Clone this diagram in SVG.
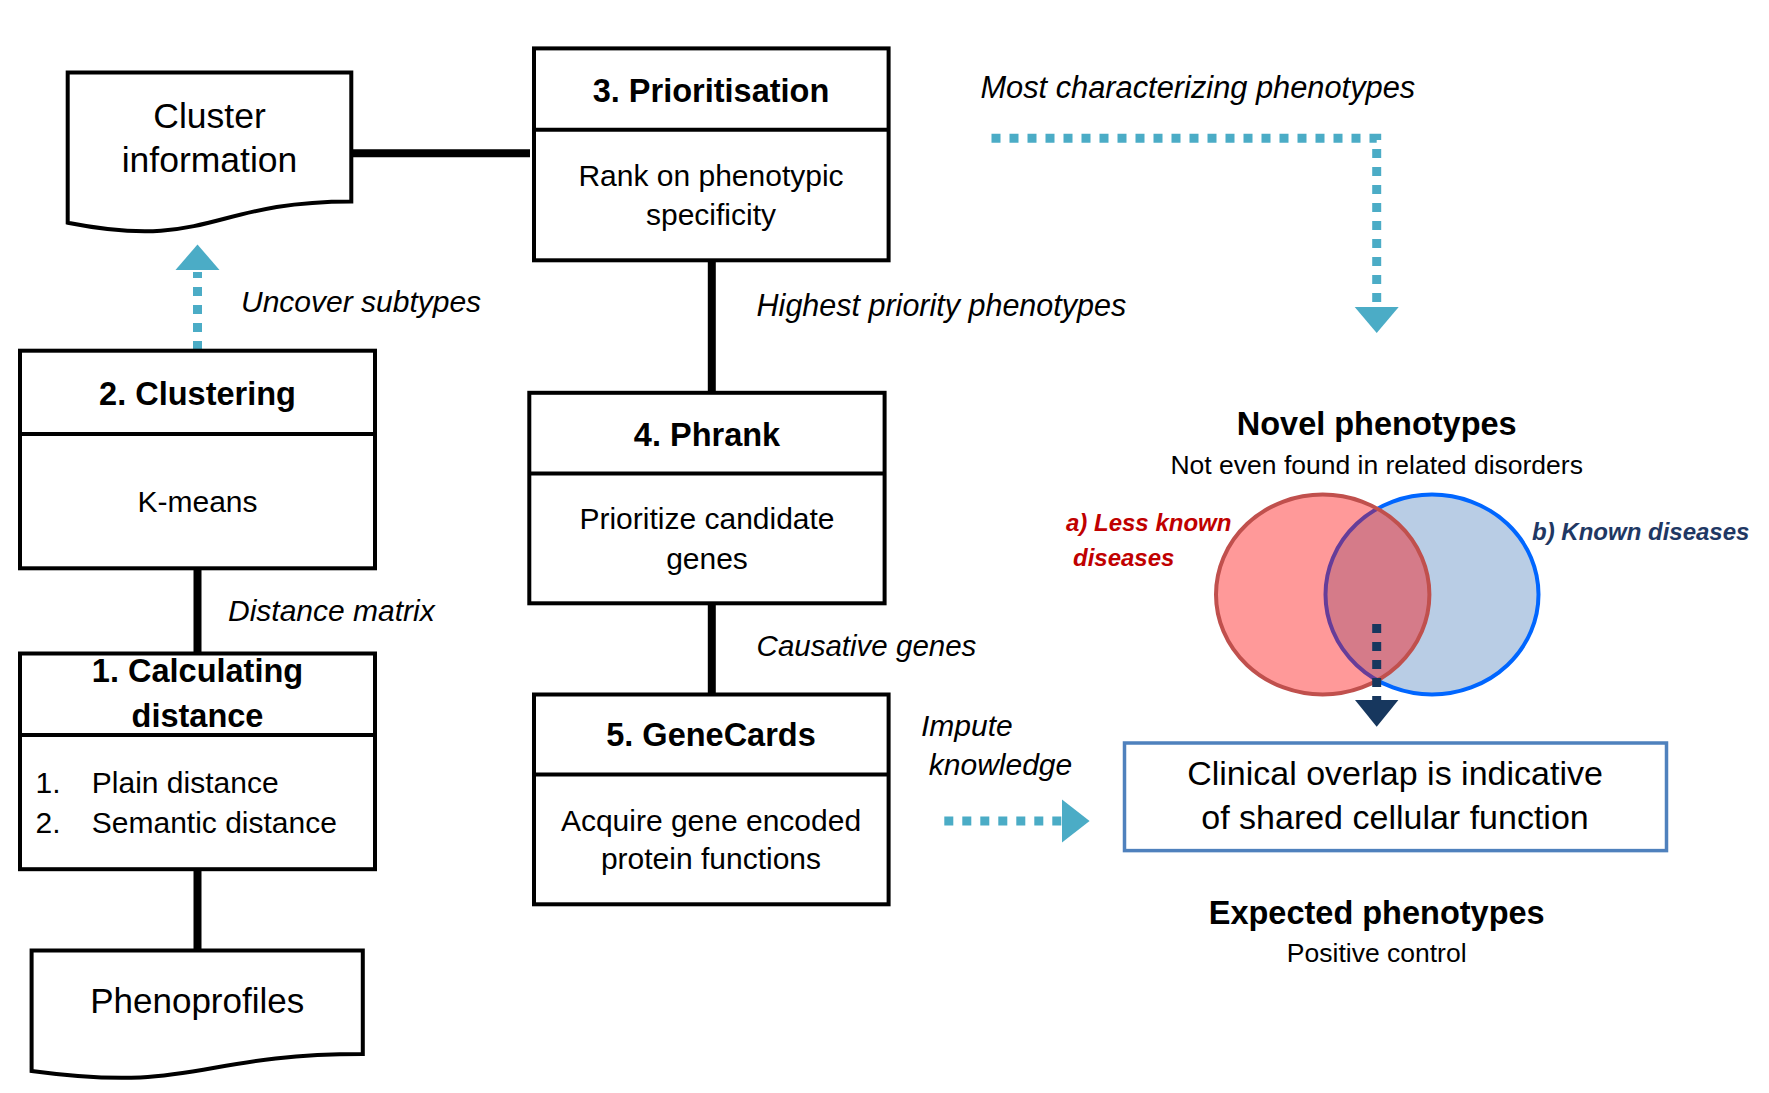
<svg xmlns="http://www.w3.org/2000/svg" width="1769" height="1093" viewBox="0 0 1769 1093">
<style>
  text { font-family: "Liberation Sans", Arial, sans-serif; fill: #000; }
  .box { fill: #fff; stroke: #000; stroke-width: 4; }
  .div { stroke: #000; stroke-width: 4; }
  .title { font-weight: bold; font-size: 32.5px; text-anchor: middle; }
  .body { font-size: 30px; text-anchor: middle; }
  .item { font-size: 30px; text-anchor: start; }
  .doc { font-size: 35.5px; text-anchor: middle; }
  .lbl { font-style: italic; font-size: 30px; }
  .conn { stroke: #000; stroke-width: 8; fill: none; }
  .dotted { stroke: #4BACC6; stroke-width: 9; stroke-dasharray: 9 9; fill: none; }
  .dotdark { stroke: #17375E; stroke-width: 9; stroke-dasharray: 9 9; fill: none; }
  .head { fill: #4BACC6; }
  .headdark { fill: #17375E; }
  .big { font-weight: bold; font-size: 32.5px; text-anchor: middle; }
  .sub { font-size: 26.5px; text-anchor: middle; }
  .red { font-weight: bold; font-style: italic; font-size: 24px; fill: #C00000; }
  .navy { font-weight: bold; font-style: italic; font-size: 24px; fill: #1F3864; }
  .clin { font-size: 34px; text-anchor: middle; }
</style>
<rect width="1769" height="1093" fill="#fff"/>

<g id="connectors">
  <path class="conn" d="M351,153.3 H530"/>
  <path class="conn" d="M711.8,260 V392.8"/>
  <path class="conn" d="M711.8,603.3 V694.5"/>
  <path class="conn" d="M197.5,568.3 V653.5"/>
  <path class="conn" d="M197.5,869.2 V950.6"/>
  <path class="dotted" d="M197.5,350 V272"/>
  <polygon class="head" points="175.5,270 219.5,270 197.5,244.5"/>
  <path class="dotted" d="M991.5,138.3 H1376.7 V307"/>
  <polygon class="head" points="1354.7,307 1398.7,307 1376.7,333"/>
  <path class="dotted" d="M944.3,821 H1062"/>
  <polygon class="head" points="1062,799.4 1062,842.6 1089.6,821"/>
</g>

<g id="labels">
  <text class="lbl" x="241" y="311.5">Uncover subtypes</text>
  <text class="lbl" x="228" y="621">Distance matrix</text>
  <text class="lbl" x="756.6" y="315.7" font-size="30.5" style="font-size:30.5px">Highest priority phenotypes</text>
  <text class="lbl" x="756.6" y="656" style="font-size:29.5px">Causative genes</text>
  <text class="lbl" x="980.4" y="98.2" style="font-size:30.8px">Most characterizing phenotypes</text>
  <text class="lbl" x="921" y="736">Impute</text>
  <text class="lbl" x="928.8" y="774.5">knowledge</text>
</g>

<g id="cluster-information">
  <path class="box" d="M67.7,72.6 H351.3 V201.5 C209.5,201.5 209.5,250.6 67.7,222.7 Z"/>
  <text class="doc" x="209.5" y="128">Cluster</text>
  <text class="doc" x="209.5" y="172">information</text>
</g>

<g id="prioritisation">
  <rect class="box" x="534" y="48.4" width="354.6" height="211.9"/>
  <line class="div" x1="534" y1="129.8" x2="888.6" y2="129.8"/>
  <text class="title" x="711" y="102.4">3. Prioritisation</text>
  <text class="body" x="711" y="186">Rank on phenotypic</text>
  <text class="body" x="711" y="224.5">specificity</text>
</g>

<g id="phrank">
  <rect class="box" x="529.3" y="392.8" width="355.3" height="210.5"/>
  <line class="div" x1="529.3" y1="473.5" x2="884.6" y2="473.5"/>
  <text class="title" x="707" y="445.5">4. Phrank</text>
  <text class="body" x="707" y="529">Prioritize candidate</text>
  <text class="body" x="707" y="569.3">genes</text>
</g>

<g id="genecards">
  <rect class="box" x="534" y="694.5" width="354.6" height="209.8"/>
  <line class="div" x1="534" y1="774.5" x2="888.6" y2="774.5"/>
  <text class="title" x="711" y="745.7">5. GeneCards</text>
  <text class="body" x="711" y="830.6">Acquire gene encoded</text>
  <text class="body" x="711" y="869.2">protein functions</text>
</g>

<g id="clustering">
  <rect class="box" x="20" y="350.7" width="355" height="217.6"/>
  <line class="div" x1="20" y1="433.9" x2="375" y2="433.9"/>
  <text class="title" x="197.5" y="405">2. Clustering</text>
  <text class="body" x="197.5" y="512">K-means</text>
</g>

<g id="calculating-distance">
  <rect class="box" x="20" y="653.5" width="355" height="215.7"/>
  <line class="div" x1="20" y1="734.9" x2="375" y2="734.9"/>
  <text class="title" x="197.5" y="681.5">1. Calculating</text>
  <text class="title" x="197.5" y="727">distance</text>
  <text class="item" x="35.6" y="792.7">1.</text>
  <text class="item" x="91.8" y="792.7">Plain distance</text>
  <text class="item" x="35.6" y="832.7">2.</text>
  <text class="item" x="91.8" y="832.7">Semantic distance</text>
</g>

<g id="phenoprofiles">
  <path class="box" d="M31.6,950.6 H362.8 V1054 C197.2,1054 197.2,1093.4 31.6,1071 Z"/>
  <text class="doc" x="197.2" y="1013" style="font-size:35px">Phenoprofiles</text>
</g>

<g id="novel-phenotypes">
  <text class="big" x="1376.7" y="435">Novel phenotypes</text>
  <text class="sub" x="1376.7" y="473.5">Not even found in related disorders</text>
</g>

<g id="venn">
  <ellipse cx="1432" cy="594.5" rx="106.5" ry="100" fill="#B9CDE5" stroke="#0066FF" stroke-width="4"/>
  <ellipse cx="1322.7" cy="594.5" rx="106.7" ry="100" fill="#FF0000" fill-opacity="0.4" stroke="#C0504D" stroke-width="4"/>
  <text class="red" x="1066" y="531.4">a) Less known</text>
  <text class="red" x="1073" y="565.8">diseases</text>
  <text class="navy" x="1532" y="540">b) Known diseases</text>
  <path class="dotdark" d="M1376.7,624 V700"/>
  <polygon class="headdark" points="1355,700 1398.4,700 1376.7,726.7"/>
</g>

<g id="clinical-overlap">
  <rect x="1124.5" y="743" width="542" height="107.6" fill="#fff" stroke="#4F81BD" stroke-width="3.5"/>
  <text class="clin" x="1395" y="785">Clinical overlap is indicative</text>
  <text class="clin" x="1395" y="829">of shared cellular function</text>
</g>

<g id="expected-phenotypes">
  <text class="big" x="1376.7" y="923.6">Expected phenotypes</text>
  <text class="sub" x="1376.7" y="962">Positive control</text>
</g>
</svg>
